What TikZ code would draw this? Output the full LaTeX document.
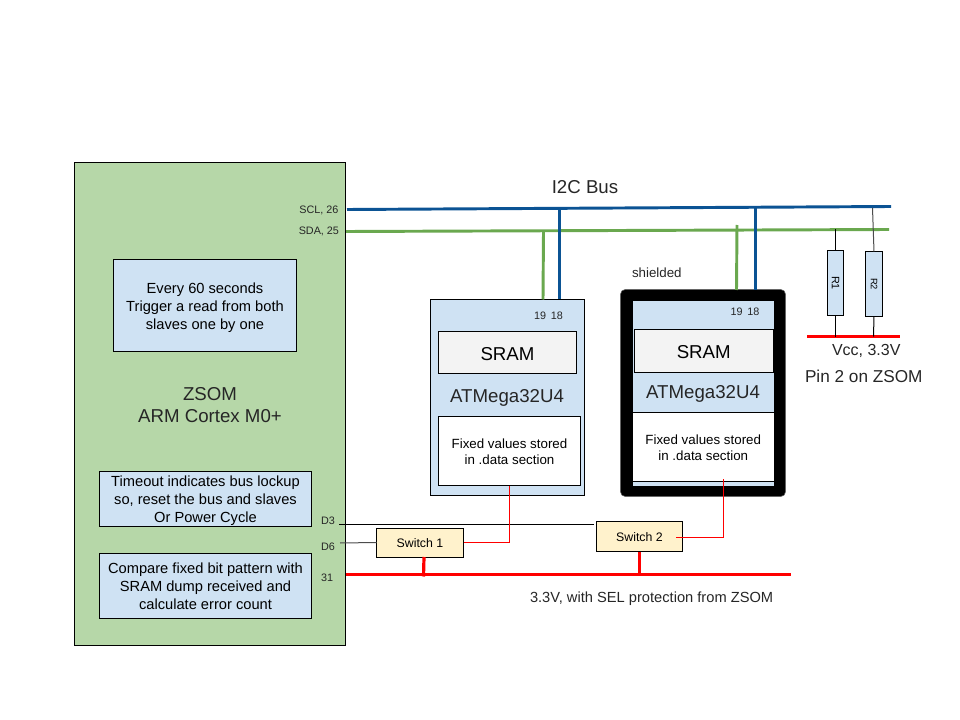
\documentclass[tikz,border=0pt]{standalone}
\usepackage{fontspec}
\setmainfont{Liberation Sans}
\definecolor{zgreen}{HTML}{B6D7A8}
\definecolor{zblue}{HTML}{CFE2F3}
\definecolor{zgrey}{HTML}{F3F3F3}
\definecolor{zyellow}{HTML}{FFF2CC}
\definecolor{sclblue}{HTML}{0B5394}
\definecolor{sdagreen}{HTML}{6AA84F}
\definecolor{zred}{HTML}{FF0000}
\newcommand{\fa}{\fontsize{11}{13.5}\selectfont}
\newcommand{\fb}{\fontsize{8.1}{10}\selectfont}
\newcommand{\fc}{\fontsize{10}{12}\selectfont}
\newcommand{\fd}{\fontsize{14}{16.5}\selectfont}
\newcommand{\lowered}[1]{\rule{0pt}{#1pt}}
\tikzset{
  x=0.75pt,y=-0.75pt,
  boxa/.style={draw=black,line width=0.75pt,inner sep=0pt,outer sep=0pt,anchor=north west,align=center},
  lab/.style={inner sep=0pt,outer sep=0pt,align=center,text=black!85},
  scl/.style={draw=sclblue,line width=2.2pt},
  sda/.style={draw=sdagreen,line width=2.2pt},
  pwr/.style={draw=zred,line width=2.4pt},
  sig/.style={draw=zred,line width=0.75pt},
  thinline/.style={draw=black,line width=0.75pt},
  greyline/.style={draw=black!70,line width=0.75pt},
}
\newcommand{\bx}[8][\fa]{\node[boxa,fill=#2,font=#1,minimum width=#5*0.75pt,minimum height=#6*0.75pt] (#7) at (#3,#4) {#8};}
\begin{document}
\begin{tikzpicture}
\useasboundingbox (0,0) rectangle (960,720);
\bx{zgreen}{74.5}{162.5}{271}{483}{zsom}{}
\bx{zblue}{113.5}{259.5}{183}{92}{every}{\lowered{11}Every 60 seconds\\Trigger a read from both\\slaves one by one}
\bx{zblue}{99.5}{471.5}{212}{55}{timeout}{\lowered{11}Timeout indicates bus lockup\\so, reset the bus and slaves\\Or Power Cycle}
\bx{zblue}{99.5}{553.5}{212}{65}{compare}{Compare fixed bit pattern with\\SRAM dump received and\\calculate error count}
\node[lab,font=\fd] (zsomlab) at (210,405) {ZSOM\\ARM Cortex M0+};
\node[lab,anchor=east,font=\fb] (scllab) at (338.5,210) {SCL, 26};
\node[lab,anchor=east,font=\fb] (sdalab) at (339,231) {SDA, 25};
\node[lab,anchor=west,font=\fb] (d3lab) at (321,521) {D3};
\node[lab,anchor=west,font=\fb] (d6lab) at (321,547) {D6};
\node[lab,anchor=west,font=\fb] (p31lab) at (321,578) {31};
% left target
\bx{zblue}{430.5}{299.5}{154}{195.5}{mega}{}
\bx[\fd]{zgrey}{438.5}{331.5}{138}{42}{sram}{\lowered{11.5}SRAM}
\node[lab,font=\fd] (megalab) at (507,398) {ATMega32U4};
\bx[\fc]{white}{438.5}{416.5}{142}{69}{fixed}{\lowered{8.8}Fixed values stored\\in .data section}
\node[lab,font=\fb] (pinsa) at (548.5,316) {19\hspace{0.45em}18};
% shielded target
\node[draw=black!60,fill=black,line width=0.4pt,rounded corners=3.5pt,inner sep=0pt,outer sep=0pt,anchor=north west,minimum width=165*0.75pt,minimum height=207*0.75pt] (shield) at (620.5,289.5) {};
\node[fill=zblue,inner sep=0pt,outer sep=0pt,anchor=north west,minimum width=141.5*0.75pt,minimum height=184*0.75pt] (megab) at (632.5,301.5) {};
\bx[\fd]{zgrey}{634.5}{329.5}{138.5}{43}{sramb}{\lowered{11.5}SRAM}
\node[lab,font=\fd] (megablab) at (703,394) {ATMega32U4};
\bx[\fc]{white}{632.5}{412.5}{141.5}{69}{fixedb}{\lowered{8.8}Fixed  values stored\\in .data section}
\node[lab,font=\fb] (pinsb) at (745,312) {19\hspace{0.45em}18};
\node[lab,anchor=west,font=\fontsize{10}{12}\selectfont] (shlab) at (632,272.5) {shielded};
% bus
\node[lab,font=\fd] (i2c) at (585,187.5) {I2C Bus};
\coordinate (sclL) at (347,209.5); \coordinate (sclR) at (891,206.5);
\coordinate (sdaL) at (346,231.5); \coordinate (sdaR) at (889,229.5);
\draw[scl] (sclL) -- (sclR);
\draw[sda] (sdaL) -- (sdaR);
\coordinate (a1) at (543.5,231); \coordinate (a2) at (543,299.5);
\coordinate (b1) at (559.5,209); \coordinate (b2) at (559.5,299.5);
\coordinate (c1) at (737,225); \coordinate (c2) at (736.5,290);
\coordinate (d1) at (755.4,207); \coordinate (d2) at (755.4,290);
\draw[sda] (a1) -- (a2);
\draw[scl] (b1) -- (b2);
\draw[sda] (c1) -- (c2);
\draw[scl] (d1) -- (d2);
% resistors
\coordinate (vccL) at (807,336.5); \coordinate (vccR) at (900,336.5);
\draw[draw=zred,line width=2.8pt] (vccL) -- (vccR);
\bx[\fb]{zblue}{827.5}{250.5}{16}{65}{r1}{\rotatebox{-90}{R1}}
\bx[\fontsize{7}{8}\selectfont]{zblue}{865.5}{251.5}{17}{65}{r2}{\rotatebox{-90}{R2}}
\coordinate (r1t) at (835.5,229.5); \coordinate (r1b) at (835.5,336.5);
\coordinate (r2t) at (872.5,208); \coordinate (r2b) at (873.5,336.5);
\draw[thinline] (r1t) -- (r1.north);
\draw[thinline] (r1.south) -- (r1b);
\draw[greyline] (r2t) -- (r2.north);
\draw[thinline] (r2.south) -- (r2b);
\node[lab,anchor=west,font=\fontsize{12}{14}\selectfont] (vcc) at (832,351) {Vcc, 3.3V};
\node[lab,anchor=west,font=\fontsize{12.9}{15}\selectfont] (pin2) at (805,376) {Pin 2 on ZSOM};
% switches
\bx[\fontsize{9.25}{11}\selectfont]{zyellow}{376.5}{528}{87}{29}{sw1}{\lowered{8.2}Switch 1}
\bx[\fontsize{9.25}{11}\selectfont]{zyellow}{596.5}{521.5}{86}{30}{sw2}{\lowered{8.2}Switch 2}
\coordinate (d3L) at (339,524); \coordinate (d3R) at (593.5,524);
\coordinate (d6L) at (340,543);
\draw[thinline] (d3L) -- (d3R);
\draw[greyline] (d6L) -- (sw1.west);
\draw[sig] (sw1.east) -| (fixed.south);
\coordinate (sw2o) at (676,537.5);
\coordinate (fbin) at (723.5,479);
\draw[sig] (sw2o) -| (fbin);
\coordinate (pL) at (346,574.5); \coordinate (pR) at (791,574.5);
\coordinate (p1) at (423.5,576.5); \coordinate (p2) at (639.5,574.5);
\draw[pwr] (pL) -- (pR);
\draw[pwr] (424,557) -- (p1);
\draw[pwr] (sw2.south) -- (p2);
\node[lab,anchor=west,font=\fontsize{11}{13}\selectfont] (sel) at (530,599) {3.3V, with SEL protection from ZSOM};
\end{tikzpicture}
\end{document}
